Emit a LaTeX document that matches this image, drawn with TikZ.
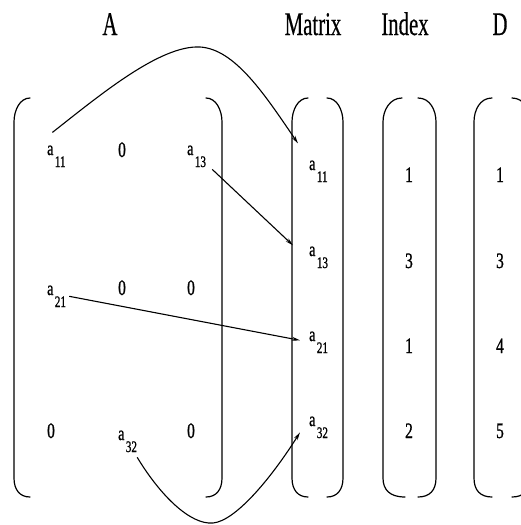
\documentclass[tikz,border=0pt]{standalone}
\usepackage{fontspec}
\setmainfont{Liberation Serif}
\newfontfamily\entf[FakeBold=1.2]{Liberation Serif}
\newfontfamily\ttlf[FakeBold=0.6]{Liberation Serif}
\usepackage{graphicx}
\usetikzlibrary{arrows.meta,calc}
\newcommand{\ael}[1]{\scalebox{0.7}[1]{\entf\fontsize{20}{20}\selectfont a\hspace{2pt}\raisebox{-12pt}{\fontsize{16}{16}\selectfont #1}}}
\newcommand{\dg}[1]{\scalebox{0.7}[1]{\entf\fontsize{22}{22}\selectfont #1}}
\newcommand{\ttl}[1]{\scalebox{0.63}[1]{\ttlf\fontsize{33}{33}\selectfont #1}}
\tikzset{
  ent/.style={inner sep=0pt, anchor=base west},
  num/.style={inner sep=0pt, anchor=base},
  title/.style={inner sep=0pt, anchor=base},
  brk/.style={line width=1.2pt, line cap=round},
  link/.style={line width=1.1pt, -{Stealth[length=8pt,width=4pt]}},
}
\begin{document}
\begin{tikzpicture}[x=1pt,y=-1pt]
\useasboundingbox (0,0) rectangle (521,525);
\clip (0,0) rectangle (521,525);
% titles
\node[title] (tA) at (110,35) {\ttl{A}};
\node[title] (tM) at (313,35) {\ttl{Matrix}};
\node[title] (tI) at (405,35) {\ttl{Index}};
\node[title] (tD) at (500,35) {\ttl{D}};
% brackets
\draw[brk] (30,98) .. controls (20,98) and (14,110) .. (14,122) -- (14,478) .. controls (14,490) and (20,497) .. (30,497);
\draw[brk] (206,98) .. controls (216,98) and (222,110) .. (222,122) -- (222,478) .. controls (222,490) and (216,497) .. (206,497);
\draw[brk] (308,98) .. controls (298,98) and (292,110) .. (292,122) -- (292,478) .. controls (292,490) and (298,497) .. (308,497);
\draw[brk] (327,98) .. controls (337,98) and (343,110) .. (343,122) -- (343,478) .. controls (343,490) and (337,497) .. (327,497);
\draw[brk] (402,98) .. controls (390,98) and (383,110) .. (383,122) -- (383,478) .. controls (383,490) and (390,497) .. (405,497);
\draw[brk] (418,98) .. controls (430,98) and (436,110) .. (436,122) -- (436,478) .. controls (436,490) and (430,497) .. (418,497);
\draw[brk] (492,98) .. controls (480,98) and (474,110) .. (474,122) -- (474,478) .. controls (474,490) and (480,497) .. (492,497);
\draw[brk] (512,98) .. controls (524,98) and (530,110) .. (530,122) -- (530,478) .. controls (530,490) and (524,497) .. (512,497);
% matrix A
\node[ent] (a11) at (47,155) {\ael{11}};
\node[num] (a12) at (122,157) {\dg{0}};
\node[ent] (a13) at (187,155) {\ael{13}};
\node[ent] (a21) at (47,295) {\ael{21}};
\node[num] (a22) at (122,295) {\dg{0}};
\node[num] (a23) at (191,295) {\dg{0}};
\node[num] (a31) at (51,438) {\dg{0}};
\node[ent] (a32) at (118,440) {\ael{32}};
\node[num] (a33) at (191,438) {\dg{0}};
% Matrix column
\node[ent] (m11) at (309,170) {\ael{11}};
\node[ent] (m13) at (309,256) {\ael{13}};
\node[ent] (m21) at (309,341) {\ael{21}};
\node[ent] (m32) at (309,426) {\ael{32}};
% Index column
\node[num] (i1) at (409,182) {\dg{1}};
\node[num] (i2) at (409,268) {\dg{3}};
\node[num] (i3) at (409,353) {\dg{1}};
\node[num] (i4) at (409,438) {\dg{2}};
% D column
\node[num] (d1) at (500,182) {\dg{1}};
\node[num] (d2) at (500,268) {\dg{3}};
\node[num] (d3) at (500,353) {\dg{4}};
\node[num] (d4) at (500,438) {\dg{5}};
% links
\draw[link] ($(a11.north)+(-4,-13)$) .. controls (100,95) and (160,45) .. (200,47) .. controls (235,49) and (265,95) .. ($(m11.north west)+(-11,-17)$);
\draw[link] ($(a13.south east)+(6,2)$) -- ($(m13.west)+(-16,-12)$);
\draw[link] ($(a21.east)+(3,0)$) -- ($(m21.west)+(-9,-2)$);
\draw[link] ($(a32.south east)+(0,5)$) .. controls (160,495) and (190,525) .. (213,523) .. controls (235,521) and (270,480) .. ($(m32.west)+(-9,5)$);
\end{tikzpicture}
\end{document}
